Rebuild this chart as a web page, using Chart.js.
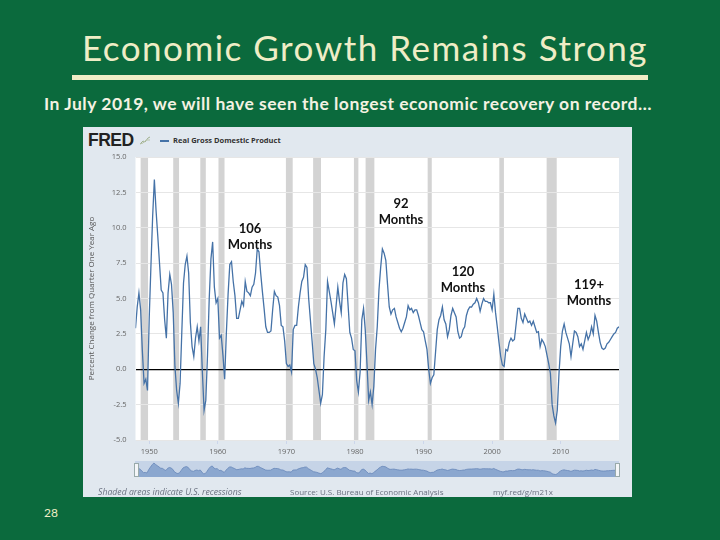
<!DOCTYPE html>
<html>
<head>
<meta charset="utf-8">
<script src="https://cdn.jsdelivr.net/npm/chart.js@4.4.1/dist/chart.umd.min.js"></script>
<style>
body{margin:0;width:720px;height:540px;background:#0b6a3d;overflow:hidden;font-family:Lato,sans-serif;position:relative}
.abs{position:absolute}
#title{left:0;width:730px;top:26px;text-align:center;color:#efedc6;font-size:35px;letter-spacing:1.5px;white-space:nowrap}
#bar{left:72px;top:75px;width:576px;height:5px;background:#efedc6}
#sub{left:0;width:696px;top:93px;text-align:center;color:#f4f2e2;font-size:17.5px;letter-spacing:0.5px;font-weight:bold;white-space:nowrap}
#panel{left:83px;top:127px;width:549px;height:370px;background:#e1e8ef}
#main{left:80px;top:128px}
#nav{left:135px;top:461px}
.fred{font-family:"Open Sans",sans-serif}
#logo{left:88px;top:130px;font-size:17.5px;font-weight:800;color:#222;letter-spacing:-0.5px;font-family:"Liberation Sans",sans-serif}
#leg{left:160px;top:135px;font-size:7.5px;font-weight:bold;color:#333}
#leg span{display:inline-block;width:9px;height:1.5px;background:#4572a7;vertical-align:middle;margin-right:4px}
.foot{top:486px;font-size:8px;color:#6a7180}
.ann{width:80px;text-align:center;font-size:13px;line-height:16px;font-weight:bold;color:#111}
.handle{width:3px;height:12px;background:#f4f6f8;border:1px solid #9aa;top:463px}
#page{left:44px;top:505px;font-size:12px;color:#efedc6}
</style>
</head>
<body>
<div class="abs" id="title">Economic Growth Remains Strong</div>
<div class="abs" id="bar"></div>
<div class="abs" id="sub">In July 2019, we will have seen the longest economic recovery on record…</div>
<div class="abs" id="panel"></div>
<div class="abs" id="logo">FRED</div>
<svg class="abs" style="left:139px;top:135px" width="12" height="10"><polyline points="1,9 4,6 6,7 9,3 11,2" fill="none" stroke="#9fb08f" stroke-width="1"/><polyline points="1,9 4,8 7,5 11,5" fill="none" stroke="#b8c4aa" stroke-width="1"/></svg>
<div class="abs fred" id="leg"><span></span>Real Gross Domestic Product</div>
<canvas class="abs" id="main" width="552" height="340"></canvas>
<canvas class="abs" id="nav" width="484" height="16"></canvas>
<div class="abs handle" style="left:134px"></div>
<div class="abs handle" style="left:615px"></div>
<div class="abs fred foot" style="left:98px;font-style:italic;font-size:8.7px">Shaded areas indicate U.S. recessions</div>
<div class="abs fred foot" style="left:290px">Source: U.S. Bureau of Economic Analysis</div>
<div class="abs fred foot" style="left:493px">myf.red/g/m21x</div>
<div class="abs ann" style="left:210px;top:220px">106<br>Months</div>
<div class="abs ann" style="left:361px;top:195px">92<br>Months</div>
<div class="abs ann" style="left:423px;top:263px">120<br>Months</div>
<div class="abs ann" style="left:549px;top:276px">119+<br>Months</div>
<div class="abs" id="page">28</div>
<script>
// Real GDP, percent change from quarter one year ago, quarterly from 1948 Q1
var startYear = 1948;
var gdpYoY = [
  2.9, 4.4, 5.4, 4.2,      // 1948
  1.3, -1.0, -0.7, -1.5,   // 1949
  3.6, 7.3, 10.8, 13.4,    // 1950
  11.2, 9.4, 7.5, 5.6,     // 1951
  5.4, 3.5, 2.2, 5.4,      // 1952
  6.7, 6.0, 4.0, 0.2,      // 1953
  -1.5, -2.4, -1.0, 2.6,   // 1954
  6.1, 7.4, 8.0, 6.8,      // 1955
  3.3, 1.6, 0.9, 2.2,      // 1956
  3.0, 2.0, 3.0, -0.2,     // 1957
  -2.9, -2.2, 1.0, 5.0,    // 1958
  7.8, 9.0, 5.8, 4.7,      // 1959
  5.0, 2.2, 2.4, 1.0,      // 1960
  -0.7, 2.6, 5.3, 7.4,     // 1961
  7.6, 6.2, 5.2, 3.6,      // 1962
  3.6, 4.2, 4.8, 4.5,      // 1963
  6.2, 5.5, 5.4, 5.2,      // 1964
  5.8, 6.0, 6.8, 8.5,      // 1965
  8.3, 6.8, 5.5, 4.3,      // 1966
  3.0, 2.6, 2.6, 2.7,      // 1967
  4.2, 5.5, 5.2, 5.1,      // 1968
  4.5, 3.1, 3.0, 2.0,      // 1969
  0.4, 0.2, 0.3, -0.2,     // 1970
  2.8, 3.1, 3.1, 4.4,      // 1971
  5.4, 6.2, 6.5, 7.4,      // 1972
  7.2, 5.0, 3.5, 2.0,      // 1973
  0.4, 0.0, -0.6, -1.5,    // 1974
  -2.4, -1.8, 0.9, 2.8,    // 1975
  6.2, 5.5, 4.8, 4.0,      // 1976
  3.2, 4.5, 5.8, 4.8,      // 1977
  4.0, 6.1, 6.7, 6.4,      // 1978
  4.5, 2.6, 2.2, 1.4,      // 1979
  1.3, -0.8, -1.6, -0.2,   // 1980
  3.5, 4.3, 2.8, 0.4,      // 1981
  -2.2, -1.6, -2.5, -1.2,  // 1982
  1.4, 3.0, 5.6, 7.2,      // 1983
  8.5, 8.2, 7.7, 6.0,      // 1984
  4.4, 3.9, 4.2, 4.3,      // 1985
  3.7, 3.3, 2.9, 2.65,     // 1986
  2.9, 3.3, 3.7, 4.5,      // 1987
  4.2, 4.3, 4.0, 4.2,      // 1988
  4.2, 3.8, 3.3, 2.8,      // 1989
  2.65, 2.0, 1.4, 0.0,     // 1990
  -1.0, -0.6, -0.4, 1.2,   // 1991
  2.8, 3.5, 3.8, 4.4,      // 1992
  3.5, 3.2, 2.3, 2.8,      // 1993
  3.8, 4.3, 4.0, 3.7,      // 1994
  2.65, 2.2, 2.3, 2.8,     // 1995
  3.0, 3.8, 4.2, 4.4,      // 1996
  4.4, 4.6, 4.7, 5.0,      // 1997
  4.7, 4.1, 4.6, 5.0,      // 1998
  4.8, 4.8, 4.7, 4.7,      // 1999
  4.2, 5.3, 4.0, 3.0,      // 2000
  1.9, 0.9, 0.3, 0.2,      // 2001
  1.4, 1.3, 1.9, 2.2,      // 2002
  2.0, 2.1, 3.2, 4.3,      // 2003
  4.3, 3.6, 3.3, 3.9,      // 2004
  3.6, 3.3, 3.4, 3.1,      // 2005
  3.4, 3.0, 2.6, 2.65,     // 2006
  1.6, 2.1, 1.9, 1.6,      // 2007
  1.0, 0.4, -0.3, -2.5,    // 2008
  -3.3, -3.8, -2.9, -0.3,  // 2009
  1.6, 2.7, 3.2, 2.6,      // 2010
  2.2, 1.8, 0.9, 1.8,      // 2011
  2.7, 2.6, 2.3, 1.6,      // 2012
  1.8, 1.4, 2.0, 2.6,      // 2013
  2.1, 2.4, 3.0, 2.5,      // 2014
  3.8, 3.4, 2.6, 1.9,      // 2015
  1.5, 1.4, 1.5, 1.8,      // 2016
  1.9, 2.1, 2.3, 2.5,      // 2017
  2.6, 2.9, 3.0            // 2018
];
// NBER recessions (start, end) in decimal years
var recessions = [
  [1948.75, 1949.83], [1953.5, 1954.35], [1957.45, 1958.25], [1960.1, 1960.98],
  [1969.93, 1970.92], [1973.9, 1975.05], [1979.85, 1980.5], [1981.55, 1982.83],
  [1990.6, 1991.2], [2001.05, 2001.72], [2007.95, 2009.42]
];
var xTicks = [1950, 1960, 1970, 1980, 1990, 2000, 2010];
var yTicks = [-5, -2.5, 0, 2.5, 5, 7.5, 10, 12.5, 15];

var points = gdpYoY.map(function (v, i) { return { x: startYear + i / 4, y: v }; });
var lastX = points[points.length - 1].x;

var shade = {
  id: 'shade',
  beforeDraw: function (chart) {
    var a = chart.chartArea, ctx = chart.ctx, x = chart.scales.x;
    ctx.save();
    ctx.fillStyle = '#ffffff';
    ctx.fillRect(a.left, a.top, a.right - a.left, a.bottom - a.top);
    ctx.fillStyle = '#d3d3d3';
    recessions.forEach(function (r) {
      var x0 = x.getPixelForValue(r[0]), x1 = x.getPixelForValue(r[1]);
      ctx.fillRect(x0, a.top, x1 - x0, a.bottom - a.top);
    });
    ctx.restore();
  }
};

var tickFont = { family: 'Open Sans', size: 7.5 };

new Chart(document.getElementById('main'), {
  type: 'line',
  data: { datasets: [{
    data: points,
    borderColor: '#4572a7',
    borderWidth: 1.3,
    pointRadius: 0,
    fill: false
  }] },
  options: {
    responsive: false,
    devicePixelRatio: 1,
    animation: false,
    layout: { padding: { top: 29, right: 13, left: 0, bottom: 0 } },
    plugins: { legend: { display: false }, tooltip: { enabled: false } },
    scales: {
      x: {
        type: 'linear',
        min: startYear,
        max: lastX,
        afterBuildTicks: function (s) { s.ticks = xTicks.map(function (v) { return { value: v }; }); },
        afterFit: function (s) { s.height = 28; },
        ticks: { font: tickFont, color: '#666', padding: 3, callback: function (v) { return v; } },
        grid: { drawOnChartArea: false, tickLength: 4, color: '#ccd6eb' },
        border: { display: false }
      },
      y: {
        min: -5,
        max: 15,
        afterBuildTicks: function (s) { s.ticks = yTicks.map(function (v) { return { value: v }; }); },
        afterFit: function (s) { s.width = 55.5; },
        ticks: { font: tickFont, color: '#666', padding: 9, callback: function (v) { return v.toFixed(1); } },
        grid: {
          drawTicks: false,
          lineWidth: function (c) { return c.tick && c.tick.value === 0 ? 1.3 : 1; },
          color: function (c) { return c.tick && c.tick.value === 0 ? '#000000' : '#e6e6e6'; }
        },
        border: { display: false },
        title: { display: true, text: 'Percent Change from Quarter One Year Ago', font: { family: 'Open Sans', size: 8 }, color: '#555', padding: { top: 7, bottom: 0 } }
      }
    }
  },
  plugins: [shade]
});

// small navigator strip under the chart
var navBg = {
  id: 'navBg',
  beforeDraw: function (chart) {
    var ctx = chart.ctx;
    ctx.save();
    ctx.fillStyle = '#c6d4e7';
    ctx.fillRect(0, 0, chart.width, chart.height);
    ctx.restore();
  }
};
new Chart(document.getElementById('nav'), {
  type: 'line',
  data: { datasets: [{
    data: points,
    borderColor: '#6787b9',
    borderWidth: 0.8,
    backgroundColor: '#8ba7cf',
    fill: 'start',
    pointRadius: 0
  }] },
  options: {
    responsive: false,
    devicePixelRatio: 1,
    animation: false,
    layout: { padding: 0 },
    plugins: { legend: { display: false }, tooltip: { enabled: false } },
    scales: {
      x: { type: 'linear', min: startYear, max: lastX, display: false },
      y: { min: -7.5, max: 16.4, display: false }
    }
  },
  plugins: [navBg]
});
</script>
</body>
</html>
